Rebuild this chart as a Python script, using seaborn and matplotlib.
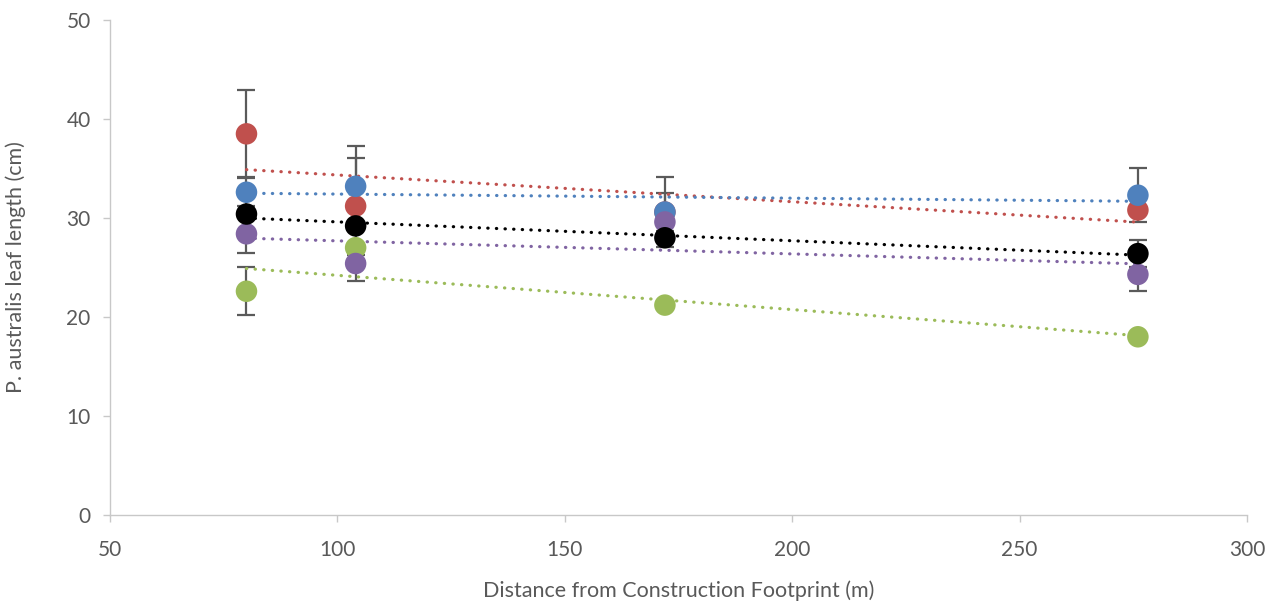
import matplotlib
matplotlib.use("Agg")
import matplotlib.pyplot as plt
import seaborn as sns
import pandas as pd

# Distance of each sampling transect from the construction footprint (m)
distance = [80, 104, 172, 276]

# Mean leaf length (cm) per site group, with their error half-widths
red_len = [38.5, 31.2, 30.6, 30.8]
red_err = [4.4, 4.9, 3.5, 0.3]
blue_len = [32.6, 33.2, 30.6, 32.3]
blue_err = [1.4, 4.1, 1.9, 2.7]
green_len = [22.6, 27.0, 21.2, 18.0]
green_err = [2.4, 0.3, 0.3, 0.3]
purple_len = [28.4, 25.4, 29.6, 24.3]
purple_err = [1.9, 1.8, 0.3, 1.7]
black_len = [30.4, 29.2, 28.0, 26.4]
black_err = [0.3, 0.3, 0.3, 1.4]

series_names = ["red", "green", "blue", "purple", "black"]
series_vals = [red_len, green_len, blue_len, purple_len, black_len]
series_errs = [red_err, green_err, blue_err, purple_err, black_err]
colors = {"red": "#C0504D", "green": "#9BBB59", "blue": "#4F81BD",
          "purple": "#8064A2", "black": "#000000"}

y_ticks = [0, 10, 20, 30, 40, 50]
x_ticks = [50, 100, 150, 200, 250, 300]

rows = []
for name, vals, errs in zip(series_names, series_vals, series_errs):
    for d, v, e in zip(distance, vals, errs):
        rows.append({"distance": d, "length": v, "err": e, "group": name})
df = pd.DataFrame(rows)

sns.set_theme(style="white")
plt.rcParams["font.family"] = ["Lato", "DejaVu Sans"]

fig = plt.figure(figsize=(12.81, 6.04), dpi=100)
ax = fig.add_axes([0.0859, 0.1474, 0.8876, 0.8195])

# Error bars behind everything else
for name in series_names:
    sub = df[df["group"] == name]
    ax.errorbar(sub["distance"], sub["length"], yerr=sub["err"], fmt="none",
                ecolor="#5A5A5A", elinewidth=1.6, capsize=6.5, capthick=1.6,
                zorder=1)

# Dotted linear trend lines
for name in series_names:
    sub = df[df["group"] == name]
    sns.regplot(data=sub, x="distance", y="length", ax=ax, ci=None,
                scatter=False, truncate=True,
                line_kws={"color": colors[name], "linewidth": 2.3,
                          "linestyle": (0, (0.1, 2.6)),
                          "dash_capstyle": "round", "zorder": 2})

# Markers
sns.scatterplot(data=df, x="distance", y="length", hue="group",
                palette=colors, hue_order=series_names, s=240,
                edgecolor="none", linewidth=0, legend=False, ax=ax, zorder=3)

ax.set_xlim(50, 300)
ax.set_ylim(0, 50)
ax.set_xticks(x_ticks)
ax.set_yticks(y_ticks)
ax.set_xticklabels([str(t) for t in x_ticks])
ax.set_yticklabels([str(t) for t in y_ticks])

for side in ["top", "right"]:
    ax.spines[side].set_visible(False)
for side in ["left", "bottom"]:
    ax.spines[side].set_color("#C8C8C8")
    ax.spines[side].set_linewidth(1.0)

ax.tick_params(axis="both", which="major", direction="out", length=5,
               width=1.0, color="#C8C8C8", labelcolor="#595959",
               labelsize=15, pad=9, left=True, bottom=True)
ax.tick_params(axis="x", pad=13)

ax.set_xlabel("Distance from Construction Footprint (m)", fontsize=15.5,
              color="#595959", labelpad=15)
ax.set_ylabel("P. australis leaf length (cm)", fontsize=15.5,
              color="#595959", labelpad=29)
ax.grid(False)

fig.savefig("out.png", dpi=100)
